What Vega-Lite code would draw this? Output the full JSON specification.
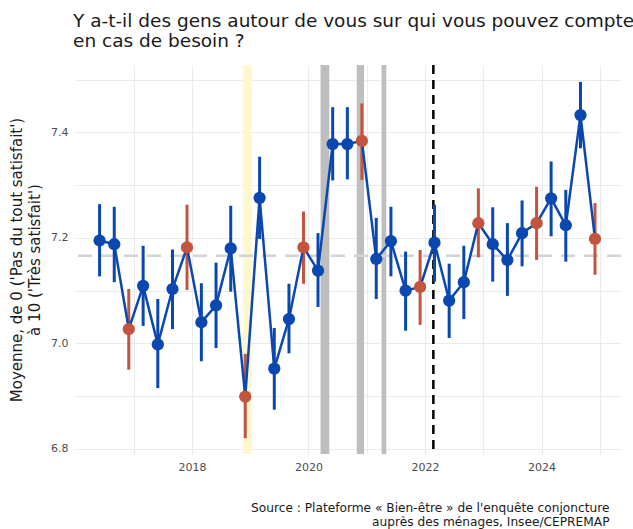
{
  "$schema": "https://vega.github.io/schema/vega-lite/v6.json",
  "width": 546,
  "height": 389,
  "autosize": "none",
  "padding": {"left": 75, "top": 65, "right": 12, "bottom": 75},
  "background": "white",
  "title": {
    "text": ["Y a-t-il des gens autour de vous sur qui vous pouvez compter", "en cas de besoin ?"],
    "anchor": "start",
    "frame": "group",
    "font": "DejaVu Sans",
    "fontSize": 18.5,
    "fontWeight": "normal",
    "lineHeight": 20,
    "color": "#1a1a1a",
    "offset": 13,
    "dx": -2
  },
  "config": {
    "view": {"stroke": null},
    "axis": {
      "labelFont": "DejaVu Sans",
      "titleFont": "DejaVu Sans",
      "labelFontSize": 11,
      "labelColor": "#4d4d4d",
      "gridColor": "#ebebeb",
      "gridWidth": 1,
      "domain": false,
      "ticks": false
    }
  },
  "datasets": {
    "obs": [
      {"date": "2016-06-01", "value": 7.195, "low": 7.127, "high": 7.264, "type": "other"},
      {"date": "2016-09-01", "value": 7.188, "low": 7.116, "high": 7.259, "type": "other"},
      {"date": "2016-12-01", "value": 7.027, "low": 6.950, "high": 7.103, "type": "dec"},
      {"date": "2017-03-01", "value": 7.109, "low": 7.033, "high": 7.185, "type": "other"},
      {"date": "2017-06-01", "value": 6.998, "low": 6.915, "high": 7.084, "type": "other"},
      {"date": "2017-09-01", "value": 7.103, "low": 7.027, "high": 7.178, "type": "other"},
      {"date": "2017-12-01", "value": 7.182, "low": 7.101, "high": 7.263, "type": "dec"},
      {"date": "2018-03-01", "value": 7.040, "low": 6.966, "high": 7.114, "type": "other"},
      {"date": "2018-06-01", "value": 7.072, "low": 6.991, "high": 7.153, "type": "other"},
      {"date": "2018-09-01", "value": 7.180, "low": 7.098, "high": 7.261, "type": "other"},
      {"date": "2018-12-01", "value": 6.899, "low": 6.820, "high": 6.980, "type": "dec"},
      {"date": "2019-03-01", "value": 7.276, "low": 7.198, "high": 7.354, "type": "other"},
      {"date": "2019-06-01", "value": 6.952, "low": 6.874, "high": 7.029, "type": "other"},
      {"date": "2019-09-01", "value": 7.046, "low": 6.981, "high": 7.113, "type": "other"},
      {"date": "2019-12-01", "value": 7.182, "low": 7.113, "high": 7.250, "type": "dec"},
      {"date": "2020-03-01", "value": 7.138, "low": 7.069, "high": 7.209, "type": "other"},
      {"date": "2020-06-01", "value": 7.378, "low": 7.309, "high": 7.448, "type": "other"},
      {"date": "2020-09-01", "value": 7.378, "low": 7.311, "high": 7.448, "type": "other"},
      {"date": "2020-12-01", "value": 7.384, "low": 7.310, "high": 7.455, "type": "dec"},
      {"date": "2021-03-01", "value": 7.160, "low": 7.084, "high": 7.238, "type": "other"},
      {"date": "2021-06-01", "value": 7.194, "low": 7.127, "high": 7.259, "type": "other"},
      {"date": "2021-09-01", "value": 7.100, "low": 7.024, "high": 7.174, "type": "other"},
      {"date": "2021-12-01", "value": 7.107, "low": 7.035, "high": 7.177, "type": "dec"},
      {"date": "2022-03-01", "value": 7.191, "low": 7.117, "high": 7.263, "type": "other"},
      {"date": "2022-06-01", "value": 7.081, "low": 7.010, "high": 7.151, "type": "other"},
      {"date": "2022-09-01", "value": 7.116, "low": 7.046, "high": 7.185, "type": "other"},
      {"date": "2022-12-01", "value": 7.228, "low": 7.163, "high": 7.294, "type": "dec"},
      {"date": "2023-03-01", "value": 7.188, "low": 7.117, "high": 7.258, "type": "other"},
      {"date": "2023-06-01", "value": 7.158, "low": 7.090, "high": 7.228, "type": "other"},
      {"date": "2023-09-01", "value": 7.209, "low": 7.146, "high": 7.271, "type": "other"},
      {"date": "2023-12-01", "value": 7.228, "low": 7.158, "high": 7.297, "type": "dec"},
      {"date": "2024-03-01", "value": 7.275, "low": 7.203, "high": 7.345, "type": "other"},
      {"date": "2024-06-01", "value": 7.224, "low": 7.155, "high": 7.291, "type": "other"},
      {"date": "2024-09-01", "value": 7.433, "low": 7.370, "high": 7.496, "type": "other"},
      {"date": "2024-12-01", "value": 7.198, "low": 7.130, "high": 7.266, "type": "dec"}
    ],
    "yellow": [{"start": "2018-11-17", "end": "2019-01-10"}],
    "gray": [
      {"start": "2020-03-17", "end": "2020-05-11"},
      {"start": "2020-10-30", "end": "2020-12-15"},
      {"start": "2021-04-03", "end": "2021-05-03"}
    ],
    "mean": [{"value": 7.166}],
    "event": [{"date": "2022-02-22"}]
  },
  "layer": [
    {
      "data": {"name": "yellow"},
      "mark": {"type": "rect", "color": "#fff8cc"},
      "encoding": {
        "x": {
          "field": "start", "type": "temporal",
          "scale": {"domain": ["2015-12-30", "2025-05-13"]},
          "axis": {
            "values": [{"year": 2017}, {"year": 2018}, {"year": 2019}, {"year": 2020}, {"year": 2021}, {"year": 2022}, {"year": 2023}, {"year": 2024}, {"year": 2025}],
            "labelExpr": "year(datum.value) % 2 == 0 ? timeFormat(datum.value, '%Y') : ''",
            "labelPadding": 7,
            "title": ["Source : Plateforme « Bien-être » de l'enquête conjoncture", "auprès des ménages, Insee/CEPREMAP"],
            "titleX": 534,
            "titleAlign": "right",
            "titleFontSize": 12.2,
            "titleFontWeight": "normal",
            "titleColor": "#1a1a1a",
            "titleLineHeight": 14,
            "titlePadding": 29
          }
        },
        "x2": {"field": "end"}
      }
    },
    {
      "data": {"name": "gray"},
      "mark": {"type": "rect", "color": "#bebebe"},
      "encoding": {
        "x": {"field": "start", "type": "temporal"},
        "x2": {"field": "end"}
      }
    },
    {
      "data": {"name": "mean"},
      "mark": {"type": "rule", "color": "#d3d3d3", "strokeWidth": 2.5, "strokeDash": [14, 9]},
      "encoding": {
        "y": {"field": "value", "type": "quantitative"}
      }
    },
    {
      "data": {"name": "event"},
      "mark": {"type": "rule", "color": "#000000", "strokeWidth": 2.5, "strokeDash": [9, 6]},
      "encoding": {
        "x": {"field": "date", "type": "temporal"}
      }
    },
    {
      "data": {"name": "obs"},
      "mark": {"type": "rule", "strokeWidth": 3},
      "encoding": {
        "x": {"field": "date", "type": "temporal"},
        "y": {"field": "low", "type": "quantitative"},
        "y2": {"field": "high"},
        "color": {"field": "type", "type": "nominal", "scale": {"domain": ["other", "dec"], "range": ["#0a47b0", "#c25440"]}, "legend": null}
      }
    },
    {
      "data": {"name": "obs"},
      "mark": {"type": "line", "color": "#0a47b0", "strokeWidth": 2.5},
      "encoding": {
        "x": {"field": "date", "type": "temporal"},
        "y": {"field": "value", "type": "quantitative"}
      }
    },
    {
      "data": {"name": "obs"},
      "mark": {"type": "circle", "size": 150, "opacity": 1},
      "encoding": {
        "x": {"field": "date", "type": "temporal"},
        "y": {
          "field": "value", "type": "quantitative",
          "scale": {"domain": [6.79, 7.528], "zero": false, "nice": false},
          "axis": {
            "values": [6.8, 6.9, 7.0, 7.1, 7.2, 7.3, 7.4, 7.5],
            "labelExpr": "indexof(['6.8','7.0','7.2','7.4'], format(datum.value, '.1f')) >= 0 ? format(datum.value, '.1f') : ''",
            "labelPadding": 7,
            "title": ["Moyenne, de 0 ('Pas du tout satisfait')", "à 10 ('Très satisfait')"],
            "titleFontSize": 15,
            "titleFontWeight": "normal",
            "titleColor": "#1a1a1a",
            "titleLineHeight": 18,
            "titlePadding": 8
          }
        },
        "color": {"field": "type", "type": "nominal", "scale": {"domain": ["other", "dec"], "range": ["#0a47b0", "#c25440"]}, "legend": null}
      }
    }
  ]
}
